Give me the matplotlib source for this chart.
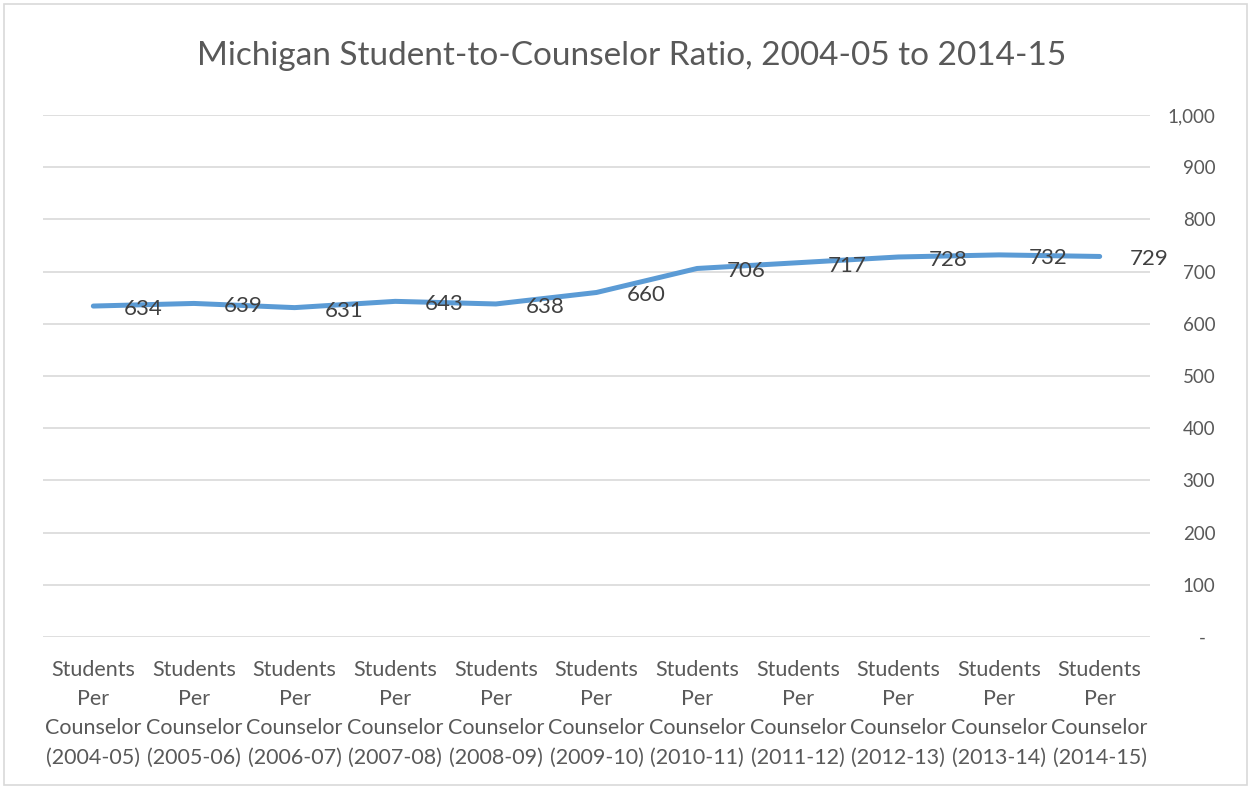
import matplotlib.pyplot as plt
from matplotlib.patches import Rectangle

years = ['2004-05', '2005-06', '2006-07', '2007-08', '2008-09', '2009-10',
         '2010-11', '2011-12', '2012-13', '2013-14', '2014-15']
ratio = [634, 639, 631, 643, 638, 660, 706, 717, 728, 732, 729]
yticks = [0, 100, 200, 300, 400, 500, 600, 700, 800, 900, 1000]

plt.rcParams['font.family'] = ['Lato', 'DejaVu Sans']
text_color = '#595959'
W, H = 1251, 789

fig = plt.figure(figsize=(W / 100, H / 100), dpi=100)
ax = fig.add_axes([43 / W, (H - 637) / H, (1150 - 43) / W, (637 - 115) / H])

x = list(range(len(years)))
ax.plot(x, ratio, color='#5B9BD5', linewidth=3.6, solid_capstyle='round', zorder=3)
for xi, v in zip(x, ratio):
    ax.annotate(str(v), (xi, v), xytext=(30, -3), textcoords='offset pixels',
                ha='left', va='center', fontsize=16, color='#404040', zorder=4)

ax.set_xlim(-0.5, len(years) - 0.5)
ax.set_ylim(0, 1000)
ax.set_yticks(yticks)
ax.set_yticklabels(['-  '] + [f'{v:,}' for v in yticks[1:]])
ax.yaxis.tick_right()
ax.tick_params(axis='y', length=0, pad=47, labelsize=13.5, labelcolor=text_color)
for lab in ax.get_yticklabels():
    lab.set_horizontalalignment('right')
ax.grid(axis='y', color='#D9D9D9', linewidth=1.2)
ax.set_axisbelow(True)

ax.set_xticks(x)
ax.set_xticklabels([f'Students\nPer\nCounselor\n({y})' for y in years],
                   linespacing=1.58)
ax.tick_params(axis='x', length=0, pad=16.5, labelsize=15.5, labelcolor=text_color)

for s in ax.spines.values():
    s.set_visible(False)

fig.text(632 / W, 1 - 56 / H, 'Michigan Student-to-Counselor Ratio, 2004-05 to 2014-15',
         ha='center', va='center', fontsize=24, color=text_color)

fig.patches.append(Rectangle((4 / W, 4 / H), (W - 8) / W, (H - 8) / H,
                             transform=fig.transFigure, fill=False,
                             edgecolor='#D9D9D9', linewidth=1.2))

fig.savefig('out.png', dpi=100)
